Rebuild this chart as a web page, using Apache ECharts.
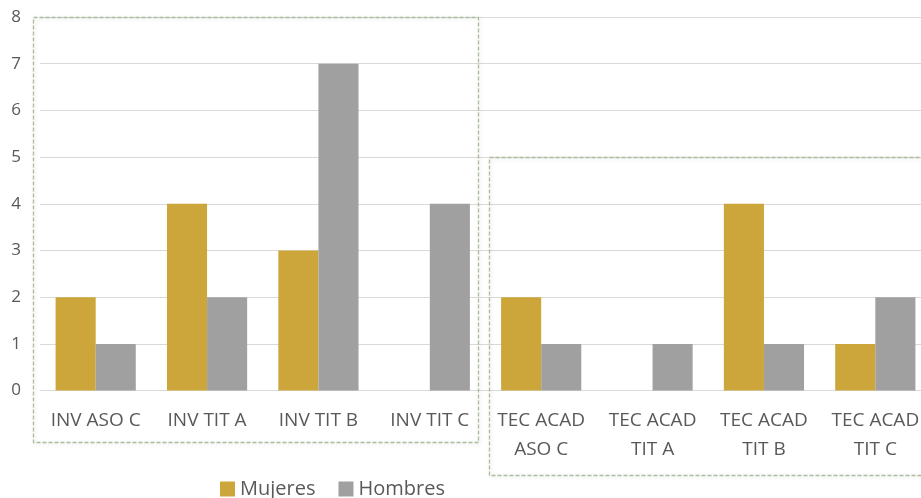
<!DOCTYPE html>
<html>
<head>
<meta charset="utf-8">
<script src="https://cdn.jsdelivr.net/npm/echarts@6/dist/echarts.min.js"></script>
<style>
html,body{margin:0;padding:0;background:#fff;overflow:hidden;width:921px;height:498px;}
#chart{width:931px;height:498px;}
</style>
</head>
<body>
<div id="chart"></div>
<script>
const categories = ['INV ASO C', 'INV TIT A', 'INV TIT B', 'INV TIT C', 'TEC ACAD\nASO C', 'TEC ACAD\nTIT A', 'TEC ACAD\nTIT B', 'TEC ACAD\nTIT C'];
const mujeres = [2, 4, 3, null, 2, null, 4, 1];
const hombres = [1, 2, 7, 4, 1, 1, 1, 2];
const yTicks = [0, 1, 2, 3, 4, 5, 6, 7, 8];

const chart = echarts.init(document.getElementById('chart'), null, {renderer: 'canvas'});
const textColor = '#595959';
const font = 'Open Sans';

chart.setOption({
  animation: false,
  backgroundColor: '#ffffff',
  grid: {left: 40, right: 0, top: 17, bottom: 107.4, containLabel: false},
  legend: {
    data: ['Mujeres', 'Hombres'],
    left: 220, top: 479, padding: 0,
    itemWidth: 15, itemHeight: 15, itemGap: 23,
    icon: 'rect',
    textStyle: {color: textColor, fontFamily: font, fontSize: 20, padding: [0,0,0,0]}
  },
  xAxis: {
    type: 'category',
    data: categories,
    axisLine: {show: true, lineStyle: {color: '#d9d9d9', width: 1}},
    axisTick: {show: false},
    axisLabel: {color: textColor, fontFamily: font, fontSize: 19, lineHeight: 29, margin: 15, interval: 0}
  },
  yAxis: {
    type: 'value',
    min: yTicks[0], max: yTicks[yTicks.length - 1], interval: 1,
    axisLine: {show: false},
    axisTick: {show: false},
    splitLine: {lineStyle: {color: '#d9d9d9', width: 1}},
    axisLabel: {color: textColor, fontFamily: font, fontSize: 17, margin: 19}
  },
  series: [
    {name: 'Mujeres', type: 'bar', data: mujeres, barGap: '0%', barCategoryGap: '28%', itemStyle: {color: '#CCA63A'}},
    {name: 'Hombres', type: 'bar', data: hombres, barGap: '0%', barCategoryGap: '28%', itemStyle: {color: '#A0A0A0'}}
  ],
  graphic: [
    {type: 'rect', shape: {x: 33.5, y: 17.5, width: 445, height: 425}, z: 100,
     style: {fill: 'none', stroke: '#a9bd9c', lineWidth: 1.3, lineDash: [4, 2], shadowBlur: 4, shadowColor: 'rgba(0,0,0,0.15)', shadowOffsetX: 1, shadowOffsetY: 1}},
    {type: 'rect', shape: {x: 489.5, y: 157.5, width: 450, height: 318}, z: 100,
     style: {fill: 'none', stroke: '#a9bd9c', lineWidth: 1.3, lineDash: [4, 2], shadowBlur: 4, shadowColor: 'rgba(0,0,0,0.15)', shadowOffsetX: 1, shadowOffsetY: 1}}
  ]
});
</script>
</body>
</html>
